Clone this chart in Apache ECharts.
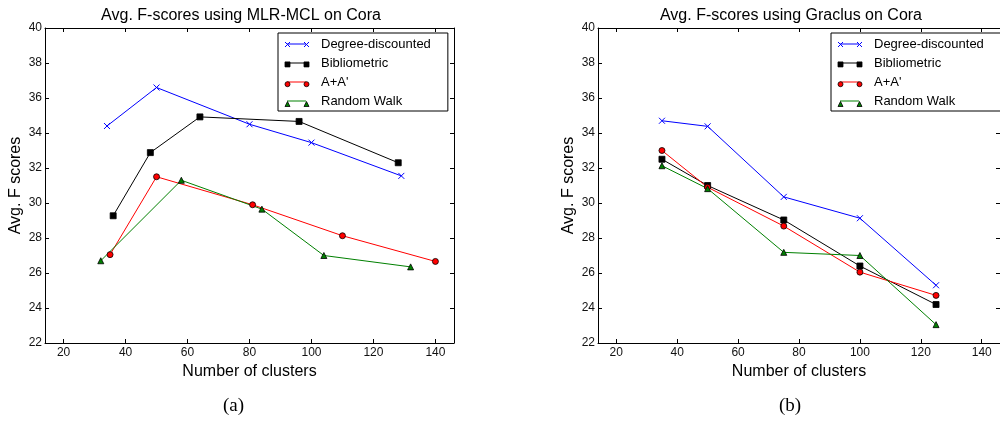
<!DOCTYPE html>
<html><head><meta charset="utf-8">
<script src="https://cdn.jsdelivr.net/npm/echarts@6/dist/echarts.min.js"></script>
<style>html,body{margin:0;padding:0;background:#fff}#c{width:1000px;height:421px}</style>
</head><body><div id="c"></div>
<script>
// ---------- data ----------
const seriesNames = ['Degree-discounted', 'Bibliometric', "A+A'", 'Random Walk'];
const titles = ['Avg. F-scores using MLR-MCL on Cora', 'Avg. F-scores using Graclus on Cora'];
const captions = ['(a)', '(b)'];
const xTicks = [20, 40, 60, 80, 100, 120, 140];
// (a) MLR-MCL
const mlrDegX = [34, 50, 80, 100, 129];
const mlrDegY = [34.4, 36.6, 34.5, 33.45, 31.55];
const mlrBibX = [36, 48, 64, 96, 128];
const mlrBibY = [29.27, 32.88, 34.92, 34.66, 32.3];
const mlrAAX = [35, 50, 81, 110, 140];
const mlrAAY = [27.05, 31.5, 29.9, 28.13, 26.66];
const mlrRWX = [32, 58, 84, 104, 132];
const mlrRWY = [26.7, 31.3, 29.65, 27.0, 26.35];
// (b) Graclus
const graX = [35, 50, 75, 100, 125];
const graDegY = [34.7, 34.38, 30.35, 29.13, 25.3];
const graBibY = [32.5, 31.0, 29.03, 26.4, 24.2];
const graAAY = [33.0, 30.9, 28.68, 26.05, 24.72];
const graRWY = [32.13, 30.82, 27.18, 27.0, 23.05];

// ---------- styles ----------
const FONT = 'Liberation Sans, Arial, Helvetica, sans-serif';
const colors = ['#0000ff', '#000000', '#ff0000', '#008000'];
const symbols = ['path://M0,0L10,10M10,0L0,10', 'rect', 'circle', 'triangle'];
const legendMarkers = [
  'path://M0,0L5,5M5,0L0,5M19,0L24,5M24,0L19,5',
  'path://M0,0H5V5H0ZM19,0H24V5H19Z',
  'path://M0,2.5A2.5,2.5,0,1,1,5,2.5A2.5,2.5,0,1,1,0,2.5ZM19,2.5A2.5,2.5,0,1,1,24,2.5A2.5,2.5,0,1,1,19,2.5Z',
  'path://M2.5,0L5,5H0ZM21.5,0L24,5H19Z'
];
function markerStyle(i) {
  if (i === 0) return { color: 'rgba(0,0,0,0)', borderColor: colors[0], borderWidth: 1 };
  return { color: colors[i], borderColor: '#000', borderWidth: 0.8 };
}
function zip(xs, ys) { return xs.map((x, k) => [x, ys[k]]); }

const gridLefts = [45, 598];
const grids = gridLefts.map(l => ({ left: l, top: 28, width: 409, height: 315 }));

const xAxis = [], yAxis = [];
[0, 1].forEach(g => {
  xAxis.push({
    type: 'value', gridIndex: g, position: 'bottom', min: 14, max: 146,
    axisLine: { show: true, onZero: false, lineStyle: { color: '#000', width: 1 } },
    axisTick: { show: true, inside: true, length: 4, customValues: xTicks, lineStyle: { color: '#000' } },
    axisLabel: { show: true, customValues: xTicks, margin: 4, fontSize: 12, color: '#111', fontFamily: FONT },
    splitLine: { show: false },
    name: 'Number of clusters', nameLocation: 'middle', nameGap: 16,
    nameTextStyle: { fontSize: 16, color: '#000', fontFamily: FONT }
  });
  xAxis.push({
    type: 'value', gridIndex: g, position: 'top', min: 14, max: 146,
    axisLine: { show: true, onZero: false, lineStyle: { color: '#000', width: 1 } },
    axisTick: { show: true, inside: true, length: 4, customValues: xTicks, lineStyle: { color: '#000' } },
    axisLabel: { show: false }, splitLine: { show: false }
  });
  yAxis.push({
    type: 'value', gridIndex: g, position: 'left', min: 22, max: 40, interval: 2,
    axisLine: { show: true, onZero: false, lineStyle: { color: '#000', width: 1 } },
    axisTick: { show: true, inside: true, length: 4, lineStyle: { color: '#000' } },
    axisLabel: { show: true, margin: 3, fontSize: 12, color: '#111', fontFamily: FONT },
    splitLine: { show: false },
    name: 'Avg. F scores', nameLocation: 'middle', nameGap: 21,
    nameTextStyle: { fontSize: 16, color: '#000', fontFamily: FONT }
  });
  yAxis.push({
    type: 'value', gridIndex: g, position: 'right', min: 22, max: 40, interval: 2,
    axisLine: { show: true, onZero: false, lineStyle: { color: '#000', width: 1 } },
    axisTick: { show: true, inside: true, length: 4, lineStyle: { color: '#000' } },
    axisLabel: { show: false }, splitLine: { show: false }
  });
});

const seriesData = [
  [zip(mlrDegX, mlrDegY), zip(mlrBibX, mlrBibY), zip(mlrAAX, mlrAAY), zip(mlrRWX, mlrRWY)],
  [zip(graX, graDegY), zip(graX, graBibY), zip(graX, graAAY), zip(graX, graRWY)]
];
const series = [];
[0, 1].forEach(g => {
  seriesNames.forEach((name, i) => {
    series.push({
      type: 'line', name: name, xAxisIndex: g * 2, yAxisIndex: g * 2,
      data: seriesData[g][i], symbol: symbols[i], symbolSize: 6,
      showAllSymbol: true, animation: false, silent: true,
      lineStyle: { color: colors[i], width: 1 },
      itemStyle: markerStyle(i),
      emphasis: { disabled: true }
    });
  });
});

const legendLefts = [278, 831];
const legend = [];
legendLefts.forEach(L => {
  legend.push({
    orient: 'vertical', left: L, top: 33, padding: [4, 17, 3, 9],
    itemWidth: 19, itemHeight: 14, itemGap: 5, selectedMode: false,
    backgroundColor: '#fff', borderColor: '#000', borderWidth: 1, borderRadius: 0, z: 5,
    textStyle: { fontSize: 13, lineHeight: 14, color: '#000', fontFamily: FONT, padding: [0, 0, 0, 10] },
    data: seriesNames.map((n, i) => ({
      name: n, icon: 'path://M0,0H19V1H0Z',
      itemStyle: { color: colors[i], borderWidth: 0, borderColor: colors[i] }
    }))
  });
  legend.push({
    orient: 'vertical', left: L + 6.5, top: 41.5, padding: 0,
    itemWidth: 24, itemHeight: 14, itemGap: 14, selectedMode: false, z: 6,
    formatter: () => '',
    textStyle: { fontSize: 13, lineHeight: 14, fontFamily: FONT },
    data: seriesNames.map((n, i) => ({
      name: n, icon: legendMarkers[i], itemStyle: markerStyle(i)
    }))
  });
});

const titleX = [241, 791];
const captionX = [233.5, 790];
const graphic = [];
[0, 1].forEach(g => {
  graphic.push({
    type: 'text', x: titleX[g], y: 15.5, silent: true,
    style: { text: titles[g], fontSize: 16, fontFamily: FONT, fill: '#000', textAlign: 'center', textVerticalAlign: 'middle' }
  });
  graphic.push({
    type: 'text', x: captionX[g], y: 406, silent: true,
    style: { text: captions[g], fontSize: 19, fontFamily: 'Liberation Serif, DejaVu Serif, serif', fill: '#000', textAlign: 'center', textVerticalAlign: 'middle' }
  });
});

const chart = echarts.init(document.getElementById('c'), null, { renderer: 'canvas' });
chart.setOption({
  animation: false,
  backgroundColor: '#fff',
  grid: grids, xAxis: xAxis, yAxis: yAxis, series: series, legend: legend, graphic: graphic,
  tooltip: { show: false }
});
</script></body></html>
